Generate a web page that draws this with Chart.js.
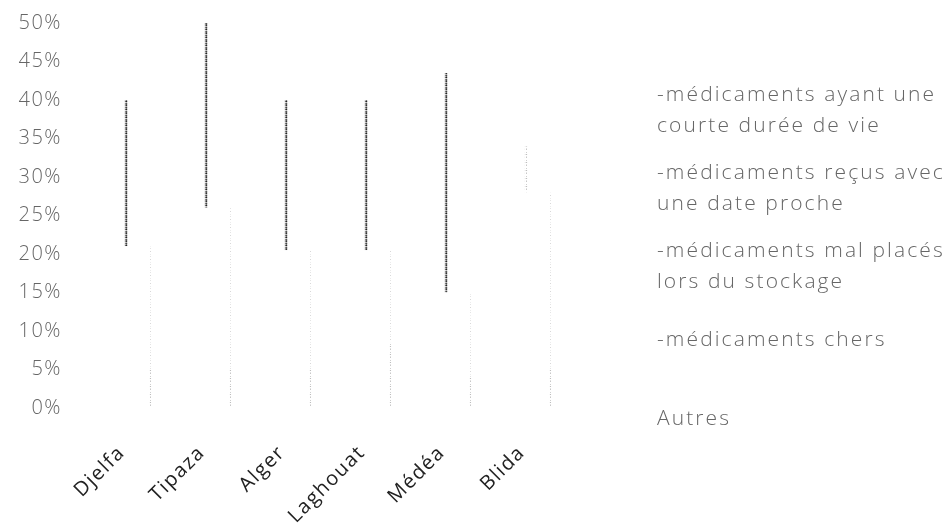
<!DOCTYPE html>
<html>
<head>
<meta charset="utf-8">
<script src="https://cdn.jsdelivr.net/npm/chart.js@4/dist/chart.umd.min.js"></script>
<style>
  html, body { margin: 0; padding: 0; background: #fff; }
  #wrap { position: relative; width: 942px; height: 524px; overflow: hidden; }
  #legend { position: absolute; left: 657px; top: 0; }
  .entry {
    position: absolute; left: 0; white-space: nowrap;
    font-family: "Open Sans", "DejaVu Sans", sans-serif; font-weight: 300;
    font-size: 21px; line-height: 31px; letter-spacing: 2.1px; color: #666;
  }
</style>
</head>
<body>
<div id="wrap">
  <canvas id="c" width="942" height="524" style="width:942px;height:524px"></canvas>
  <div id="legend"></div>
</div>
<script>
// Wilayas surveyed
const categories = ['Djelfa', 'Tipaza', 'Alger', 'Laghouat', 'Médéa', 'Blida'];

// Share of answers per cause (%), stacked from bottom to top
const autres      = [5,   5,  5,   8.5, 4,    5];
const chers       = [5.5, 6,  6,   6.5, 5,    7];
const malPlaces   = [6,   7,  4,   1.5, 3,    9];
const dateProche  = [4.5, 8,  5.5, 4,   3,    7];
const courteDuree = [19,  24, 19.5, 19.5, 28.5, 6];

// Legend text, top to bottom, one array per entry (line breaks)
const legendLabels = [
  ['-médicaments ayant une', 'courte durée de vie'],
  ['-médicaments reçus avec', 'une date proche'],
  ['-médicaments mal placés', 'lors du stockage'],
  ['-médicaments chers'],
  ['Autres']
];
const legendTops = [78, 156, 234, 323, 402];

// Y axis tick values
const yTicks = [0, 5, 10, 15, 20, 25, 30, 35, 40, 45, 50];

// Stippled stroke patterns for the bar edges
function stipple(shades) {
  const p = document.createElement('canvas');
  p.width = 2; p.height = shades.length;
  const g = p.getContext('2d');
  shades.forEach((s, i) => {
    g.fillStyle = s[0]; g.fillRect(0, i, 1, 1);
    g.fillStyle = s[1]; g.fillRect(1, i, 1, 1);
  });
  return document.getElementById('c').getContext('2d').createPattern(p, 'repeat');
}
const darkEdge = stipple([
  ['#555', '#999'], ['#333', '#888'], ['#aaa', '#ccc'], ['#444', '#777'],
  ['#777', '#bbb'], ['#222', '#666'], ['#bbb', '#ddd'], ['#555', '#888']
]);
const lightEdge = stipple([
  ['#cfcfcf', '#fff'], ['#fff', '#fff'], ['#bdbdbd', '#e8e8e8'], ['#fff', '#fff'],
  ['#e0e0e0', '#fff'], ['#c8c8c8', '#fff'], ['#fff', '#fff'], ['#fff', '#fff']
]);
const paleEdge = stipple([
  ['#e4e4e4', '#fff'], ['#fff', '#fff'], ['#fff', '#fff'], ['#d8d8d8', '#fff'],
  ['#fff', '#fff'], ['#fff', '#fff'], ['#ececec', '#fff'], ['#fff', '#fff']
]);

const edge = (side, w) => ({ top: 0, bottom: 0, left: side === 'left' ? w : 0, right: side === 'right' ? w : 0 });

const datasets = [
  { label: 'Autres', data: autres, borderWidth: edge('right', 1), borderColor: lightEdge },
  { label: '-médicaments chers', data: chers, borderWidth: edge('right', 1), borderColor: paleEdge },
  { label: '-médicaments mal placés lors du stockage', data: malPlaces, borderWidth: edge('right', 1), borderColor: paleEdge },
  { label: '-médicaments reçus avec une date proche', data: dateProche, borderWidth: edge('right', 1), borderColor: paleEdge },
  { label: '-médicaments ayant une courte durée de vie', data: courteDuree, borderWidth: edge('left', 2),
    borderColor: [darkEdge, darkEdge, darkEdge, darkEdge, darkEdge, lightEdge] }
].map(d => Object.assign(d, {
  backgroundColor: 'rgba(0,0,0,0)',
  borderSkipped: false,
  barThickness: 26
}));

// Slightly spaced text, as in the printed figure
const spacing = {
  id: 'spacing',
  beforeDraw(chart) { chart.ctx.letterSpacing = '1.5px'; }
};

new Chart(document.getElementById('c'), {
  type: 'bar',
  data: { labels: categories, datasets },
  plugins: [spacing],
  options: {
    responsive: false,
    animation: false,
    layout: { padding: { left: 0, right: 364, top: 0, bottom: 0 } },
    plugins: { legend: { display: false }, tooltip: { enabled: false } },
    scales: {
      x: {
        stacked: true,
        grid: { display: false, drawTicks: false },
        border: { display: false },
        ticks: {
          minRotation: 45, maxRotation: 45, padding: 33, labelOffset: -16,
          color: '#222',
          font: { family: 'Open Sans', size: 20, weight: '400' }
        },
        afterFit(scale) { scale.height = 116; }
      },
      y: {
        stacked: true,
        min: 0, max: 50,
        grid: { display: false, drawTicks: false },
        border: { display: false },
        afterBuildTicks(scale) { scale.ticks = yTicks.map(v => ({ value: v })); },
        ticks: {
          padding: 36,
          color: '#666',
          font: { family: 'Open Sans', size: 20, weight: '300' },
          callback: v => v + '%'
        },
        afterFit(scale) {
          scale.width = 98;
          scale.paddingTop = 23;
          scale.paddingBottom = 0;
        }
      }
    }
  }
});

// Legend beside the plot
const legend = document.getElementById('legend');
legendLabels.forEach((lines, i) => {
  const d = document.createElement('div');
  d.className = 'entry';
  d.style.top = legendTops[i] + 'px';
  lines.forEach((t, j) => {
    if (j) d.appendChild(document.createElement('br'));
    d.appendChild(document.createTextNode(t));
  });
  legend.appendChild(d);
});
</script>
</body>
</html>
